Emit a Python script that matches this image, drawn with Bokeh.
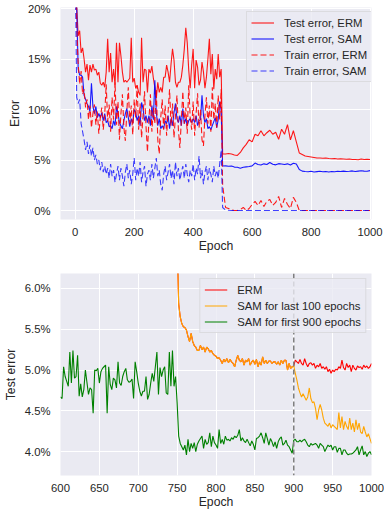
from bokeh.plotting import figure
from bokeh.models import (ColumnDataSource, FixedTicker, PrintfTickFormatter, Span,
                          Legend, LegendItem, Range1d)
from bokeh.layouts import column
from bokeh.embed import file_html
from bokeh.resources import INLINE

# ---------------- top panel data (error in %) ----------------
top_epochs = list(range(0, 501, 5)) + list(range(510, 1001, 10))

test_erm_early = [
    24.0, 20.3, 17.3, 17.8, 15.6, 16.1, 15.0, 13.7, 14.5, 12.9,
    14.4, 13.7, 14.5, 13.9, 14.0, 13.4, 13.7, 12.6, 12.4, 12.7,
    12.2, 13.7, 17.0, 13.7, 15.6, 12.7, 14.0, 12.4, 16.6, 12.7,
    16.6, 15.3, 13.7, 12.7, 12.9, 12.7, 12.9, 13.1, 17.1, 12.7,
    13.1, 12.1, 12.4, 11.7, 11.4, 17.1, 12.7, 14.0, 13.9, 11.7,
    14.0, 13.6, 14.3, 13.1, 12.2, 11.1, 12.7, 11.7, 12.2, 11.7,
    13.2, 13.2, 14.4, 13.7, 12.7, 14.5, 16.0, 14.9, 12.7, 12.2,
    12.7, 12.7, 13.2, 14.4, 16.0, 18.1, 16.6, 13.9, 12.1, 14.4,
    16.0, 12.1, 14.9, 14.2, 12.4, 12.9, 14.7, 13.7, 12.1, 13.2,
    15.0, 17.0, 13.5, 15.5, 12.0, 14.0, 13.0, 15.5, 13.2, 14.0,
    5.6]
test_erm_late = [
    5.6, 5.65, 5.6, 5.5, 5.45, 5.75, 6.2, 6.55, 7.0, 6.8,
    7.55, 7.4, 7.9, 7.4, 7.7, 7.95, 7.55, 7.75, 7.05, 8.05,
    7.55, 8.5, 7.0, 7.9, 6.8, 5.7, 5.55, 5.4, 5.35, 5.3,
    5.25, 5.2, 5.2, 5.18, 5.2, 5.15, 5.12, 5.15, 5.1, 5.12,
    5.1, 5.08, 5.1, 5.05, 5.05, 5.02, 5.1, 5.05, 5.08, 5.05]

test_sam_early = [
    24.0, 20.0, 14.0, 13.4, 13.4, 13.2, 11.4, 11.0, 10.6, 10.3,
    9.8, 12.6, 10.3, 9.6, 10.3, 9.2, 9.6, 9.2, 9.7, 8.9,
    9.6, 8.7, 8.9, 8.3, 8.4, 8.1, 8.9, 8.4, 10.3, 9.6,
    8.7, 8.4, 8.1, 8.9, 9.6, 10.1, 9.2, 8.3, 9.1, 8.6,
    10.0, 9.7, 8.9, 9.4, 8.4, 10.7, 10.1, 8.9, 9.4, 8.7,
    9.4, 8.4, 10.4, 9.0, 12.9, 9.7, 8.4, 9.1, 8.1, 8.4,
    8.1, 8.9, 8.6, 9.4, 8.1, 9.1, 8.4, 9.7, 10.6, 9.1,
    8.7, 9.4, 8.4, 10.1, 8.6, 9.1, 8.4, 8.9, 9.1, 8.7,
    9.1, 8.7, 9.4, 8.4, 8.9, 9.0, 11.4, 9.4, 8.7, 9.1,
    8.1, 8.3, 8.0, 8.4, 8.8, 9.2, 8.2, 9.0, 10.8, 9.9,
    4.4]
test_sam_late = [
    4.42, 4.38, 4.40, 4.30, 4.28, 4.18, 4.28, 4.32, 4.36, 4.42,
    4.70, 4.55, 4.50, 4.62, 4.55, 4.75, 4.58, 4.52, 4.64, 4.60,
    4.55, 4.62, 4.50, 4.68, 4.60, 4.05, 3.90, 3.86, 3.84, 3.88,
    3.82, 3.85, 3.88, 3.84, 3.86, 3.82, 3.86, 3.84, 3.88, 3.86,
    3.90, 3.86, 3.88, 3.92, 3.86, 3.90, 3.94, 3.90, 3.88, 3.95]

train_erm_early = [
    24.0, 18.0, 14.5, 12.5, 13.8, 11.5, 12.0, 10.2, 11.0, 9.0,
    10.4, 8.2, 9.6, 10.5, 8.5, 9.8, 7.6, 9.2, 10.2, 8.0,
    9.5, 12.5, 8.8, 10.5, 7.8, 11.2, 9.0, 12.7, 8.5, 10.8,
    7.0, 9.6, 11.5, 8.2, 6.9, 9.8, 12.2, 8.6, 10.4, 7.5,
    11.0, 9.2, 12.4, 8.0, 10.6, 7.2, 9.4, 11.8, 8.4, 5.8,
    9.0, 11.5, 7.8, 10.2, 8.6, 12.0, 7.0, 5.6, 9.2, 11.0,
    8.0, 10.4, 7.4, 9.8, 12.0, 8.4, 10.6, 7.2, 9.4, 11.4,
    8.0, 6.2, 9.0, 11.8, 8.6, 10.2, 7.6, 12.4, 9.2, 8.0,
    10.8, 7.4, 9.6, 11.6, 8.2, 10.0, 7.0, 6.4, 9.4, 11.2,
    8.6, 10.4, 7.8, 12.2, 9.0, 10.6, 8.2, 11.4, 9.0, 12.0,
    2.5]
train_erm_late = [
    0.3, 0.2, 0.05, 0.0, 0.0, 0.1, 0.3, 0.0, 0.2, 0.6,
    0.9, 0.5, 1.0, 0.4, 0.9, 1.1, 0.5, 0.8, 1.4, 0.3,
    1.2, 0.6, 0.2, 1.3, 0.8, 0.0, 0.0, 0.0, 0.0, 0.0,
    0.0, 0.0, 0.0, 0.0, 0.0, 0.0, 0.0, 0.0, 0.0, 0.0,
    0.0, 0.0, 0.0, 0.0, 0.0, 0.0, 0.0, 0.0, 0.0, 0.0]

train_sam_early = [
    24.0, 11.2, 10.6, 11.0, 8.6, 7.8, 7.0, 6.0, 6.8, 5.6,
    6.5, 5.4, 6.2, 5.0, 5.5, 4.6, 5.0, 4.0, 4.8, 3.8,
    4.4, 3.6, 4.2, 3.2, 4.6, 3.4, 4.0, 2.8, 3.6, 4.4,
    3.0, 4.2, 3.4, 2.4, 3.8, 4.6, 3.2, 4.0, 2.6, 3.6,
    5.2, 3.0, 4.2, 3.4, 4.8, 2.8, 3.8, 4.4, 2.4, 3.6,
    4.0, 3.0, 4.6, 3.2, 4.2, 5.2, 3.4, 4.0, 2.6, 2.0,
    3.6, 4.4, 3.0, 3.8, 4.6, 3.2, 4.0, 2.6, 4.8, 3.4,
    4.2, 3.0, 3.8, 4.4, 3.2, 4.6, 3.6, 2.8, 4.0, 3.4,
    4.6, 3.0, 4.2, 3.6, 5.4, 3.2, 4.0, 2.6, 3.8, 4.4,
    3.0, 4.2, 3.6, 2.8, 4.4, 3.4, 4.0, 3.2, 4.6, 6.0,
    0.3]
train_sam_late = [
    0.05, 0.02, 0.0, 0.0, 0.0, 0.0, 0.0, 0.0, 0.0, 0.0,
    0.0, 0.0, 0.0, 0.0, 0.0, 0.0, 0.0, 0.0, 0.0, 0.0,
    0.0, 0.0, 0.0, 0.0, 0.0, 0.0, 0.0, 0.0, 0.0, 0.0,
    0.0, 0.0, 0.0, 0.0, 0.0, 0.0, 0.0, 0.0, 0.0, 0.0,
    0.0, 0.0, 0.0, 0.0, 0.0, 0.0, 0.0, 0.0, 0.0, 0.0]

top_labels = ["Test error, ERM", "Test error, SAM", "Train error, ERM", "Train error, SAM"]
top_ticks_x = [0, 200, 400, 600, 800, 1000]
top_ticks_y = [0, 5, 10, 15, 20]

# ---------------- bottom panel data (test error in %) ----------------
green_epochs = list(range(600, 1001, 2))
sam_first900 = [
    4.67, 4.65, 5.04, 4.92, 4.86, 4.80, 5.22, 4.84, 5.24, 4.90,
    4.92, 5.18, 4.68, 4.83, 4.67, 4.76, 5.00, 4.85, 4.70, 4.78,
    4.76, 4.47, 5.00, 4.99, 5.02, 4.84, 4.98, 5.02, 5.04, 5.06,
    4.47, 5.04, 4.82, 4.76, 4.90, 4.88, 4.78, 5.10, 4.84, 4.81,
    4.92, 4.98, 5.02, 4.88, 4.85, 4.86, 4.89, 4.65, 5.10, 4.98,
    4.84, 4.74, 4.68, 4.74, 4.74, 4.92, 4.64, 4.70, 4.84, 4.96,
    4.86, 5.04, 5.22, 4.70, 5.03, 4.92, 5.00, 5.04, 4.72, 4.70,
    5.22, 4.80, 5.24, 4.80, 4.92, 4.60, 4.19, 4.10, 4.06, 4.02,
    4.08, 3.96, 4.15, 4.00, 4.10, 4.04, 4.11, 4.00, 4.09, 4.13,
    4.16, 4.19, 4.04, 4.15, 4.09, 4.11, 4.23, 4.06, 4.19, 4.11,
    4.08, 4.04, 4.27, 4.10, 4.15, 4.09, 4.19, 4.14, 4.15, 4.13,
    4.17, 4.15, 4.19, 4.17, 4.20, 4.27, 4.13, 4.17, 4.13, 4.11,
    4.15, 4.11, 4.07, 4.13, 4.09, 4.02, 4.16, 4.17, 4.19, 4.23,
    4.17, 4.10, 4.23, 4.16, 4.08, 4.16, 4.12, 4.06, 4.12, 4.04,
    4.12, 4.16, 4.18, 4.08, 4.10, 4.14, 4.08, 4.06, 4.02, 3.98,
    4.14, 4.15, 4.12, 4.12, 4.14, 4.12, 4.14, 4.15, 4.12, 4.08,
    4.06, 4.10, 4.08, 4.09, 4.10, 4.08, 4.04, 4.10, 4.08, 4.06,
    4.00, 4.04, 4.08, 4.06, 4.08, 4.02, 4.06, 4.06, 3.99, 4.04,
    4.04, 3.96, 4.02, 4.02, 3.98, 3.96, 3.97, 3.97, 3.98, 4.00,
    4.02, 4.06, 3.96, 4.02, 4.07, 3.96, 4.00, 3.94, 3.98, 4.00,
    3.96]

erm_epochs = list(range(750, 1001, 2))
erm_bottom = [
    6.60, 5.81, 5.65, 5.57, 5.53, 5.52, 5.49, 5.41, 5.35, 5.45,
    5.35, 5.30, 5.28, 5.24, 5.24, 5.30, 5.25, 5.28, 5.22, 5.28,
    5.26, 5.22, 5.24, 5.20, 5.18, 5.17, 5.14, 5.15, 5.12, 5.08,
    5.13, 5.10, 5.14, 5.09, 5.13, 5.10, 5.08, 5.04, 5.12, 5.18,
    5.12, 5.10, 5.14, 5.06, 5.12, 5.10, 5.14, 5.06, 5.10, 5.12,
    5.07, 5.13, 5.04, 5.10, 5.06, 5.16, 5.08, 5.12, 5.08, 5.11,
    5.11, 5.08, 5.10, 5.10, 5.07, 5.10, 5.06, 5.12, 5.08, 5.12,
    5.12, 5.00, 5.08, 5.02, 5.04, 5.05, 5.12, 5.10, 5.08, 5.13,
    5.08, 5.06, 5.14, 5.08, 5.04, 5.08, 5.09, 5.06, 5.08, 5.02,
    5.06, 5.04, 5.08, 5.02, 5.04, 5.01, 5.04, 4.98, 5.01, 4.96,
    5.00, 4.98, 5.01, 5.00, 5.04, 5.02, 5.12, 5.03, 5.00, 5.08,
    5.03, 5.06, 4.98, 5.06, 5.02, 5.00, 5.05, 5.03, 5.04, 5.01,
    5.06, 5.03, 5.05, 5.02, 5.04, 5.08]

switch_epoch = 900
sam_last100_tail = [  # epochs 902..1000, SAM switched on at epoch 900
    4.96, 4.88, 4.78, 4.72, 4.67, 4.71, 4.67, 4.63, 4.67, 4.78,
    4.65, 4.60, 4.61, 4.53, 4.39, 4.51, 4.58, 4.51, 4.41, 4.35,
    4.33, 4.31, 4.35, 4.29, 4.33, 4.31, 4.29, 4.27, 4.48, 4.29,
    4.43, 4.27, 4.37, 4.31, 4.27, 4.41, 4.27, 4.35, 4.24, 4.39,
    4.27, 4.35, 4.24, 4.22, 4.31, 4.24, 4.18, 4.22, 4.16, 4.10]

bottom_labels = ["ERM", "SAM for last 100 epochs", "SAM for first 900 epochs"]
bottom_ticks_x = [600, 650, 700, 750, 800, 850, 900, 950, 1000]
bottom_ticks_y = [4.0, 4.5, 5.0, 5.5, 6.0]

# ---------------- styling ----------------
FONT = "Liberation Sans"
TXT = "#262626"
BG = "#EAEAF2"


def style(p, ylab_standoff, ylabel_gap):
    p.background_fill_color = BG
    p.border_fill_color = "white"
    p.outline_line_color = None
    for ax in (p.xaxis[0], p.yaxis[0]):
        ax.axis_line_color = None
        ax.major_tick_line_color = None
        ax.minor_tick_line_color = None
        ax.major_tick_out = 0
        ax.major_tick_in = 0
        ax.major_label_text_font = FONT
        ax.major_label_text_font_size = "11.3px"
        ax.major_label_text_color = TXT
        ax.axis_label_text_font = FONT
        ax.axis_label_text_font_size = "12.2px"
        ax.axis_label_text_font_style = "normal"
        ax.axis_label_text_color = TXT
    p.xaxis[0].major_label_standoff = 8
    p.xaxis[0].axis_label_standoff = 0
    p.yaxis[0].major_label_standoff = ylab_standoff
    p.yaxis[0].axis_label_standoff = ylabel_gap
    p.grid.grid_line_color = "white"
    p.grid.grid_line_width = 1
    p.grid.minor_grid_line_color = None


def make_legend(items, location):
    return Legend(items=items, location=location, margin=5, padding=4,
                  spacing=3, label_height=13, glyph_height=13, glyph_width=23,
                  label_standoff=10, label_text_font=FONT,
                  label_text_font_size="11.3px", label_text_color=TXT,
                  border_line_color="#CCCCCC", border_line_width=1,
                  background_fill_color=BG, background_fill_alpha=0.8)


# ---------------- top figure ----------------
p1 = figure(width=384, height=262, output_backend="svg", toolbar_location=None,
            x_range=Range1d(-50, 1005), y_range=Range1d(-0.89, 20.1),
            min_border_left=60, min_border_right=0, min_border_top=7,
            min_border_bottom=43)
style(p1, 10, 3)
p1.xaxis.axis_label = "Epoch"
p1.yaxis.axis_label = "Error"
p1.xaxis.ticker = FixedTicker(ticks=top_ticks_x)
p1.yaxis.ticker = FixedTicker(ticks=top_ticks_y)
p1.yaxis.formatter = PrintfTickFormatter(format="%d%%")

top_src = ColumnDataSource(dict(
    epoch=top_epochs,
    test_erm=test_erm_early + test_erm_late,
    test_sam=test_sam_early + test_sam_late,
    train_erm=train_erm_early + train_erm_late,
    train_sam=train_sam_early + train_sam_late,
))
r1 = p1.line("epoch", "test_erm", source=top_src, line_color="#FF0000", line_width=1.1, line_alpha=0.9)
r2 = p1.line("epoch", "test_sam", source=top_src, line_color="#0000FF", line_width=1.1, line_alpha=0.9)
r3 = p1.line("epoch", "train_erm", source=top_src, line_color="#FF0000", line_width=1.1,
             line_alpha=0.9, line_dash="6 3")
r4 = p1.line("epoch", "train_sam", source=top_src, line_color="#0000FF", line_width=1.1,
             line_alpha=0.75, line_dash="6 3")
p1.add_layout(make_legend([LegendItem(label=l, renderers=[r]) for l, r in
                           zip(top_labels, [r1, r2, r3, r4])], (186, 137)))

# ---------------- bottom figure ----------------
p2 = figure(width=384, height=249, output_backend="svg", toolbar_location=None,
            x_range=Range1d(600, 1000), y_range=Range1d(3.707, 6.183),
            min_border_left=58, min_border_right=13, min_border_top=11,
            min_border_bottom=35)
style(p2, 10, 4)
p2.xaxis.axis_label = "Epoch"
p2.yaxis.axis_label = "Test error"
p2.xaxis.ticker = FixedTicker(ticks=bottom_ticks_x)
p2.yaxis.ticker = FixedTicker(ticks=bottom_ticks_y)
p2.yaxis.formatter = PrintfTickFormatter(format="%.1f%%")

n_before = erm_epochs.index(switch_epoch) + 1
orange_vals = erm_bottom[:n_before] + sam_last100_tail

b1 = p2.line(erm_epochs, erm_bottom, line_color="#FF0000", line_width=1.1)
b2 = p2.line(erm_epochs, orange_vals, line_color="#FFA500", line_width=1.1)
b3 = p2.line(green_epochs, sam_first900, line_color="#008000", line_width=1.1)
p2.add_layout(Span(location=switch_epoch, dimension="height", line_color="#7F7F7F",
                   line_width=1.5, line_dash="5 3"))
p2.add_layout(make_legend([LegendItem(label=l, renderers=[r]) for l, r in
                           zip(bottom_labels, [b1, b2, b3])], "top_right"))

layout = column(p1, p2)
open("out.html", "w").write(file_html(layout, INLINE))
